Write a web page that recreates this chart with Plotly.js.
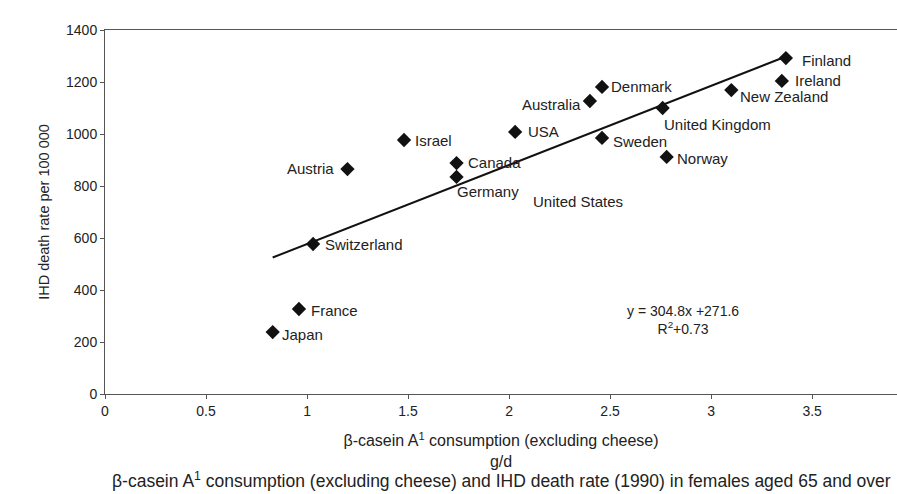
<!DOCTYPE html>
<html>
<head>
<meta charset="utf-8">
<script src="https://cdn.plot.ly/plotly-3.0.1.min.js"></script>
<style>html,body{margin:0;padding:0;background:#fff;}#chart{width:897px;height:494px;}</style>
</head>
<body>
<div id="chart"></div>
<script>
// Data
const countries = ["Finland","Ireland","New Zealand","United Kingdom","Norway","Sweden","Denmark","Australia","USA","Israel","Austria","Canada","Germany","Switzerland","France","Japan"];
const consumption = [3.37,3.35,3.10,2.76,2.78,2.46,2.46,2.40,2.03,1.48,1.20,1.74,1.74,1.03,0.96,0.83];
const deathRate = [1292,1204,1169,1100,912,985,1181,1127,1008,977,865,888,835,577,327,238];
// Stray label drawn without a marker
const strayLabels = ["United States"];
const strayX = [2.11];
const strayY = [742];
// Trend line end points
const trendX = [0.83, 3.37];
const trendY = [525, 1298];
const equationText = "y = 304.8x +271.6<br>R<sup>2</sup>+0.73";
const eqX = 2.86, eqY = 285;
const xTicks = [0,0.5,1,1.5,2,2.5,3,3.5];
const xTickText = ["0","0.5","1","1.5","2","2.5","3","3.5"];
const yTicks = [0,200,400,600,800,1000,1200,1400];
const caption = "β-casein A<sup>1</sup> consumption (excluding cheese) and IHD death rate (1990) in females aged 65 and over";

// label offsets (pixels) and anchors — styling only
const labelStyle = {
  "Finland":[14,-2,"left"], "Ireland":[11,0,"left"], "New Zealand":[7,-6,"left"],
  "United Kingdom":[-1,-16,"left"], "Norway":[8,-2,"left"], "Sweden":[9,-4,"left"],
  "Denmark":[7,0,"left"], "Australia":[-7,-4,"right"], "USA":[11,0,"left"],
  "Israel":[9,-1,"left"], "Austria":[-11,1,"right"], "Canada":[9,1,"left"],
  "Germany":[-2,-15,"left"], "Switzerland":[10,-1,"left"], "France":[10,-2,"left"],
  "Japan":[7,-2,"left"]
};

const font = "Liberation Sans, Arial, sans-serif";
const txtColor = "#222";

const annotations = countries.map((c,i)=>({
  x: consumption[i], y: deathRate[i], xref:"x", yref:"y",
  text: c, showarrow:false, xanchor: labelStyle[c][2], yanchor:"middle",
  xshift: labelStyle[c][0], yshift: labelStyle[c][1],
  font:{family:font, size:15, color:txtColor}
}));
strayLabels.forEach((s,i)=>annotations.push({
  x: strayX[i], y: strayY[i], xref:"x", yref:"y", text:s, showarrow:false,
  xanchor:"left", yanchor:"middle", font:{family:font,size:15,color:txtColor}
}));
annotations.push({
  x: eqX, y: eqY, xref:"x", yref:"y", text: equationText, showarrow:false,
  xanchor:"center", yanchor:"middle", align:"center",
  font:{family:font,size:14,color:txtColor}
});
annotations.push({
  x: 0.5, xref:"paper", y: -0.236, yref:"paper", yanchor:"middle",
  text: caption, showarrow:false, font:{family:font,size:17.5,color:txtColor}
});

const traces = [
  {x: trendX, y: trendY, mode:"lines", line:{color:"#111", width:2}, hoverinfo:"skip", showlegend:false},
  {x: consumption, y: deathRate, text: countries, mode:"markers",
   marker:{symbol:"diamond", size:11, color:"#111"}, showlegend:false}
];

const layout = {
  width:897, height:494,
  margin:{l:105, r:0, t:30, b:100},
  paper_bgcolor:"#fff", plot_bgcolor:"#fff",
  showlegend:false,
  font:{family:font, size:14, color:txtColor},
  xaxis:{
    range:[0,3.92], tickvals:xTicks, ticktext:xTickText,
    showgrid:false, zeroline:false, showline:true, linecolor:"#555", linewidth:1,
    mirror:true, ticks:"outside", ticklen:4, tickcolor:"#555",
    tickfont:{family:font,size:14,color:txtColor},
    title:{text:"β-casein A<sup>1</sup> consumption (excluding cheese)<br>g/d", standoff:17,
           font:{family:font,size:16,color:txtColor}}
  },
  yaxis:{
    range:[0,1400], tickvals:yTicks,
    showgrid:false, zeroline:false, showline:true, linecolor:"#555", linewidth:1,
    ticks:"outside", ticklen:4, tickcolor:"#555",
    tickfont:{family:font,size:14,color:txtColor},
    title:{text:"IHD death rate per 100 000", standoff:12,
           font:{family:font,size:14.5,color:txtColor}}
  },
  annotations: annotations
};

Plotly.newPlot("chart", traces, layout, {displayModeBar:false, staticPlot:true});
</script>
</body>
</html>
